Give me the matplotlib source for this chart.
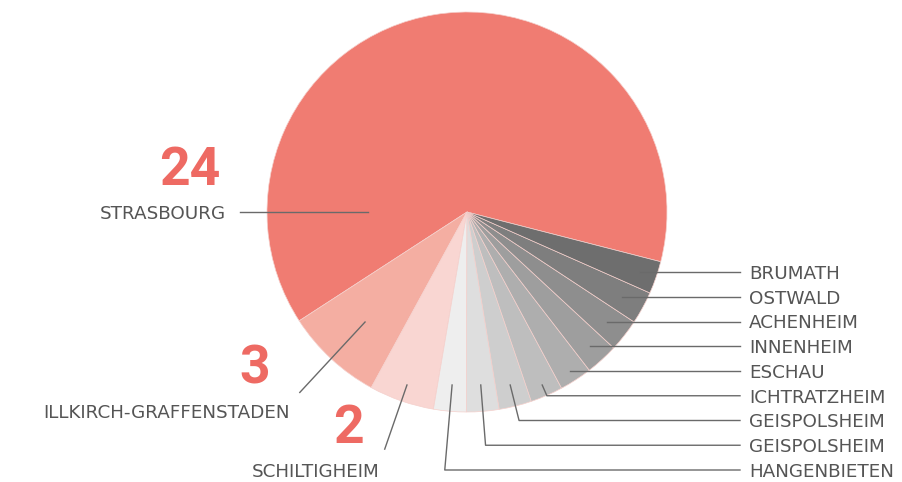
import numpy as np
import matplotlib.pyplot as plt

communes = ["STRASBOURG", "ILLKIRCH-GRAFFENSTADEN", "SCHILTIGHEIM", "HANGENBIETEN",
            "GEISPOLSHEIM", "GEISPOLSHEIM", "ICHTRATZHEIM", "ESCHAU", "INNENHEIM",
            "ACHENHEIM", "OSTWALD", "BRUMATH"]
counts = [24, 3, 2, 1, 1, 1, 1, 1, 1, 1, 1, 1]
colors = ["#f07c72", "#f4aea2", "#f9d6d2", "#eeeeee", "#dedede", "#cecece",
          "#bebebe", "#aeaeae", "#9e9e9e", "#8e8e8e", "#7e7e7e", "#6e6e6e"]

LABEL_C = "#555555"
LINE_C = "#6a6a6a"
NUM_C = "#ee6a63"
NAME_FONT = dict(family="DejaVu Sans", fontsize=13.2, color=LABEL_C)
NUM_FONT = dict(family=["Roboto", "DejaVu Sans"], fontweight="bold",
                fontsize=38.5, color=NUM_C)

fig = plt.figure(figsize=(9.02, 4.82), dpi=100)
ax = fig.add_axes([0, 0, 1, 1])
wedges, _ = ax.pie(counts, colors=colors, startangle=-14.4, counterclock=True, radius=1,
                   wedgeprops=dict(edgecolor="#f5d0cc", linewidth=0.5))
ax.set_xlim(-2.335, 2.175)
ax.set_ylim(-1.35, 1.06)
ax.set_aspect("equal")
ax.axis("off")


def mid_angle(w):
    return np.deg2rad((w.theta1 + w.theta2) / 2)


def ray_at_y(a, y):
    # point on the ray from the centre at angle a with the given height
    return y / np.tan(a), y


# left side: big counts with their commune names
# Strasbourg: straight horizontal leader
ax.plot([-0.495, -1.135], [0, 0], color=LINE_C, lw=1)
ax.text(-1.205, -0.035, communes[0], ha="right", va="baseline", **NAME_FONT)
ax.text(-1.385, 0.135, str(counts[0]), ha="center", va="baseline", **NUM_FONT)

# Illkirch: leader along the slice middle
a = mid_angle(wedges[1])
ax.plot([0.75 * np.cos(a), 1.23 * np.cos(a)], [0.75 * np.sin(a), 1.23 * np.sin(a)],
        color=LINE_C, lw=1)
ax.text(-0.885, -1.03, communes[1], ha="right", va="baseline", **NAME_FONT)
ax.text(-1.06, -0.855, str(counts[1]), ha="center", va="baseline", **NUM_FONT)

# Schiltigheim
a = mid_angle(wedges[2])
x0, y0 = ray_at_y(a, -0.865)
ax.plot([x0, 1.255 * np.cos(a)], [y0, 1.255 * np.sin(a)], color=LINE_C, lw=1)
ax.text(-0.755, -1.325, communes[2], ha="center", va="baseline", **NAME_FONT)
ax.text(-0.595, -1.155, str(counts[2]), ha="center", va="baseline", **NUM_FONT)

# right side: one-count communes stacked in a column
right = list(range(len(counts) - 1, 2, -1))
label_ys = np.linspace(-0.30, -1.29, len(right))
x_end, x_text = 1.365, 1.41
for i, ly in zip(right, label_ys):
    a = mid_angle(wedges[i])
    sx, sy = ray_at_y(a, max(ly, -0.865))
    ex, ey = ray_at_y(a, ly)
    ax.plot([sx, ex, x_end], [sy, ey, ly], color=LINE_C, lw=1)
    ax.text(x_text, ly - 0.034, communes[i], ha="left", va="baseline", **NAME_FONT)

fig.savefig("out.png", dpi=100)
